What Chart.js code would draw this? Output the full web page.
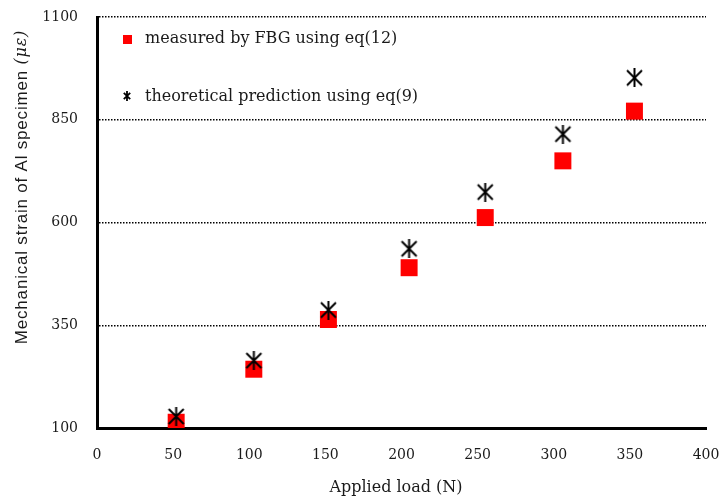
<!DOCTYPE html>
<html lang="en">
<head>
    <meta charset="UTF-8">
    <title>Mechanical strain vs applied load</title>
    <script src="https://cdn.jsdelivr.net/npm/chart.js"></script>
    <style>
        body {
            margin: 0;
            padding: 0;
            background-color: #fff;
        }

        #strainChart {
            display: block;
        }
    </style>
</head>

<body>
<canvas id="strainChart" width="723" height="500"></canvas>

<script>
    // Applied load (N)
    const loads = [52, 103, 152, 205, 255, 306, 353];
    // Strain measured by FBG, eq(12)
    const measuredStrain = [114, 243, 364, 490, 612, 750, 871];
    // Theoretical strain, eq(9)
    const theoreticalStrain = [128, 264, 387, 536, 674, 815, 952];

    const xTicks = [0, 50, 100, 150, 200, 250, 300, 350, 400];
    const yTicks = [100, 350, 600, 850, 1100];

    const serif = "'DejaVu Serif', 'Liberation Serif', serif";
    const sans = "'Liberation Sans', Arial, sans-serif";
    const textColor = '#1a1a1a';

    // Asterisk marker: an X with a vertical stroke through it
    function makeAsterisk(size, lineWidth) {
        const c = document.createElement('canvas');
        c.width = size;
        c.height = size;
        const g = c.getContext('2d');
        const m = lineWidth;
        g.strokeStyle = '#000';
        g.lineWidth = lineWidth;
        g.beginPath();
        g.moveTo(m, m);
        g.lineTo(size - m, size - m);
        g.moveTo(size - m, m);
        g.lineTo(m, size - m);
        g.moveTo(size / 2, 0);
        g.lineTo(size / 2, size);
        g.stroke();
        return c;
    }

    const bigStar = makeAsterisk(19, 2);
    const smallStar = makeAsterisk(10, 1.8);

    function toPoints(ys) {
        return loads.map((x, i) => ({x: x, y: ys[i]}));
    }

    // Fixed axis sizes, and no extra room for the end labels
    function fixScale(scale, size) {
        if (scale.isHorizontal()) {
            scale.height = size;
        } else {
            scale.width = size;
        }
        scale.paddingTop = 0;
        scale.paddingBottom = 0;
        scale.paddingLeft = 0;
        scale.paddingRight = 0;
    }

    // Legend inside the plot area, top left
    const innerLegend = {
        id: 'innerLegend',
        afterDraw(chart) {
            const ctx = chart.ctx;
            const left = chart.chartArea.left;
            ctx.save();
            ctx.font = '16px ' + serif;
            ctx.textBaseline = 'middle';
            ctx.textAlign = 'left';

            ctx.fillStyle = '#ff0000';
            ctx.fillRect(left + 26, 35, 9, 9);
            ctx.fillStyle = textColor;
            ctx.fillText(chart.data.datasets[0].label, left + 48, 39);

            ctx.drawImage(smallStar, left + 25, 91);
            ctx.fillText(chart.data.datasets[1].label, left + 48, 97);
            ctx.restore();
        }
    };

    // Axis titles (y title has an italic unit)
    const axisTitles = {
        id: 'axisTitles',
        afterDraw(chart) {
            const ctx = chart.ctx;
            ctx.save();
            ctx.fillStyle = textColor;
            ctx.textBaseline = 'middle';

            ctx.font = '16px ' + serif;
            ctx.textAlign = 'center';
            ctx.fillText('Applied load (N)', 396, 488);

            ctx.translate(22, 187);
            ctx.rotate(-Math.PI / 2);
            const mainText = 'Mechanical strain of Al specimen ';
            const unitText = '(με)';
            ctx.letterSpacing = '0.8px';
            ctx.font = '17px ' + sans;
            const w1 = ctx.measureText(mainText).width;
            ctx.font = 'italic 16px ' + serif;
            const w2 = ctx.measureText(unitText).width;
            const x = -(w1 + w2) / 2;
            ctx.textAlign = 'left';
            ctx.font = '17px ' + sans;
            ctx.fillText(mainText, x, 0);
            ctx.font = 'italic 16px ' + serif;
            ctx.fillText(unitText, x + w1, 0);
            ctx.restore();
        }
    };

    const ctx = document.getElementById('strainChart').getContext('2d');
    new Chart(ctx, {
        type: 'scatter',
        data: {
            datasets: [{
                label: 'measured by FBG using eq(12)',
                data: toPoints(measuredStrain),
                pointStyle: 'rect',
                pointRadius: 12,
                pointHoverRadius: 12,
                backgroundColor: '#ff0000',
                borderWidth: 0,
                order: 1
            }, {
                label: 'theoretical prediction using eq(9)',
                data: toPoints(theoreticalStrain),
                pointStyle: bigStar,
                pointRadius: 10,
                borderWidth: 0,
                order: 0
            }]
        },
        options: {
            responsive: false,
            animation: false,
            layout: {
                autoPadding: false,
                padding: {left: 0, top: 17, right: 17, bottom: 0}
            },
            plugins: {
                legend: {display: false},
                tooltip: {enabled: false}
            },
            scales: {
                x: {
                    type: 'linear',
                    min: 0,
                    max: 400,
                    afterFit: scale => fixScale(scale, 72),
                    afterBuildTicks(scale) {
                        scale.ticks = xTicks.map(v => ({value: v}));
                    },
                    grid: {display: false, drawTicks: false},
                    border: {display: true, color: '#000', width: 3},
                    ticks: {
                        padding: 19,
                        color: textColor,
                        font: {family: serif, size: 14},
                        callback: v => String(v)
                    }
                },
                y: {
                    type: 'linear',
                    min: 100,
                    max: 1100,
                    afterFit: scale => fixScale(scale, 97),
                    afterBuildTicks(scale) {
                        scale.ticks = yTicks.map(v => ({value: v}));
                    },
                    grid: {
                        drawTicks: false,
                        lineWidth: 1.5,
                        color: c => (c.tick && c.tick.value === 100) ? 'rgba(0,0,0,0)' : '#000'
                    },
                    border: {display: true, color: '#000', width: 3, dash: [1.5, 1.5]},
                    ticks: {
                        padding: 19,
                        color: textColor,
                        font: {family: serif, size: 14},
                        callback: v => String(v)
                    }
                }
            }
        },
        plugins: [innerLegend, axisTitles]
    });
</script>
</body>
</html>
